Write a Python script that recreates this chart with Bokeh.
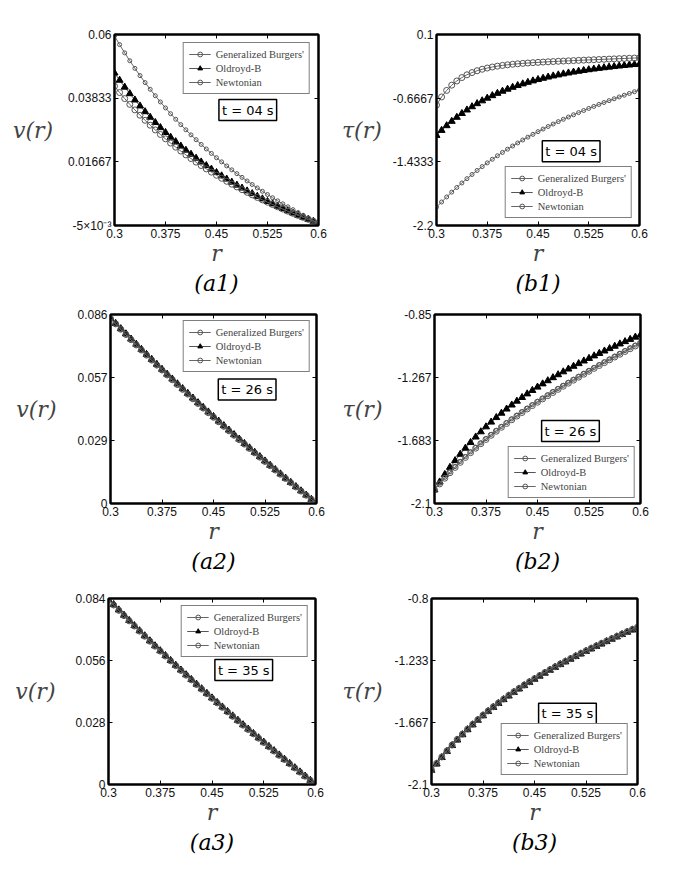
from bokeh.plotting import figure
from bokeh.layouts import column, row
from bokeh.models import FixedTicker, LinearAxis, Legend, LegendItem, Label, Title, Range1d
from bokeh.embed import file_html
from bokeh.resources import INLINE

# ---------------- data ----------------
R = [0.3, 0.3075, 0.315, 0.3225, 0.33, 0.3375, 0.345, 0.3525, 0.36, 0.3675,
     0.375, 0.3825, 0.39, 0.3975, 0.405, 0.4125, 0.42, 0.4275, 0.435, 0.4425,
     0.45, 0.4575, 0.465, 0.4725, 0.48, 0.4875, 0.495, 0.5025, 0.51, 0.5175,
     0.525, 0.5325, 0.54, 0.5475, 0.555, 0.5625, 0.57, 0.5775, 0.585, 0.5925,
     0.6]

X_TICKS = [0.3, 0.375, 0.45, 0.525, 0.6]
X_TICK_LABELS = ["0.3", "0.375", "0.45", "0.525", "0.6"]
SERIES_NAMES = ["Generalized Burgers'", "Oldroyd-B", "Newtonian"]

# (a1) t = 04 s, v(r)
A1_GB = [0.0424, 0.04025, 0.03819, 0.03623, 0.03434, 0.03253, 0.0308, 0.02913, 0.02752, 0.02598,
         0.02449, 0.02305, 0.02167, 0.02033, 0.01903, 0.01778, 0.01657, 0.0154, 0.01426, 0.01316,
         0.01209, 0.01106, 0.01005, 0.00907, 0.00812, 0.0072, 0.00629, 0.00542, 0.00456, 0.00373,
         0.00292, 0.00213, 0.00136, 0.00061, -0.00013, -0.00085, -0.00155, -0.00223, -0.0029, -0.00356,
         -0.0042]
A1_OB = [0.0469, 0.04444, 0.04209, 0.03987, 0.03772, 0.03568, 0.03373, 0.03185, 0.03005, 0.02832,
         0.02666, 0.02506, 0.02353, 0.02205, 0.02061, 0.01924, 0.01791, 0.01663, 0.01538, 0.01418,
         0.01302, 0.0119, 0.01081, 0.00975, 0.00873, 0.00774, 0.00677, 0.00584, 0.00493, 0.00405,
         0.00319, 0.00236, 0.00155, 0.00076, -0.00001, -0.00076, -0.00149, -0.00219, -0.00288, -0.00355,
         -0.0042]
A1_NT = [0.0595, 0.05656, 0.05375, 0.05106, 0.04848, 0.04601, 0.04364, 0.04136, 0.03916, 0.03705,
         0.03501, 0.03305, 0.03116, 0.02933, 0.02756, 0.02585, 0.0242, 0.02259, 0.02104, 0.01953,
         0.01807, 0.01666, 0.01528, 0.01394, 0.01264, 0.01138, 0.01015, 0.00895, 0.00778, 0.00664,
         0.00553, 0.00445, 0.0034, 0.00237, 0.00136, 0.00038, -0.00058, -0.00151, -0.00243, -0.00332,
         -0.0042]
A1_Y_TICKS = [-0.005, 0.0166667, 0.0383333, 0.06]
A1_Y_LABELS = ["-5×10⁻³", "0.01667", "0.03833", "0.06"]

# (b1) t = 04 s, tau(r)
B1_GB = [-0.75, -0.652, -0.5734, -0.5102, -0.4595, -0.4185, -0.3853, -0.3584, -0.3365, -0.3185,
         -0.3037, -0.2914, -0.281, -0.2723, -0.2649, -0.2584, -0.2528, -0.2478, -0.2433, -0.2392,
         -0.2355, -0.232, -0.2287, -0.2256, -0.2226, -0.2197, -0.2169, -0.2142, -0.2115, -0.2089,
         -0.2063, -0.2037, -0.2011, -0.1986, -0.1961, -0.1935, -0.191, -0.1885, -0.186, -0.1835,
         -0.1811]
B1_OB = [-1.115, -1.0544, -0.998, -0.9455, -0.8967, -0.8512, -0.8088, -0.7693, -0.7326, -0.6983,
         -0.6663, -0.6364, -0.6086, -0.5826, -0.5583, -0.5355, -0.5143, -0.4944, -0.4758, -0.4584,
         -0.4421, -0.4268, -0.4124, -0.3989, -0.3862, -0.3742, -0.363, -0.3524, -0.3424, -0.3329,
         -0.324, -0.3155, -0.3075, -0.2999, -0.2927, -0.2858, -0.2793, -0.273, -0.2671, -0.2614,
         -0.256]
B1_NT = [-1.98, -1.9169, -1.8563, -1.798, -1.7418, -1.6878, -1.6358, -1.5856, -1.5373, -1.4907,
         -1.4457, -1.4023, -1.3603, -1.3198, -1.2806, -1.2426, -1.2059, -1.1703, -1.1358, -1.1024,
         -1.0699, -1.0384, -1.0078, -0.978, -0.9491, -0.9209, -0.8935, -0.8667, -0.8406, -0.8151,
         -0.7903, -0.766, -0.7423, -0.719, -0.6963, -0.674, -0.6522, -0.6308, -0.6098, -0.5892,
         -0.569]
B1_Y_TICKS = [-2.2, -1.4333333, -0.6666667, 0.1]
B1_Y_LABELS = ["-2.2", "-1.4333", "-0.6667", "0.1"]

# (a2) t = 26 s, v(r)
A2_GB = [0.0842, 0.08174, 0.0793, 0.0769, 0.07452, 0.07216, 0.06983, 0.06752, 0.06524, 0.06297,
         0.06073, 0.0585, 0.0563, 0.05411, 0.05194, 0.04978, 0.04764, 0.04552, 0.04341, 0.04132,
         0.03924, 0.03717, 0.03512, 0.03308, 0.03105, 0.02903, 0.02703, 0.02504, 0.02305, 0.02108,
         0.01912, 0.01717, 0.01522, 0.01329, 0.01137, 0.00945, 0.00754, 0.00565, 0.00376, 0.00187,
         0.0]
A2_OB = [0.0843, 0.08195, 0.07955, 0.07718, 0.07482, 0.07248, 0.07016, 0.06786, 0.06559, 0.06332,
         0.06108, 0.05885, 0.05665, 0.05446, 0.05229, 0.05013, 0.04799, 0.04587, 0.04376, 0.04166,
         0.03958, 0.03751, 0.03545, 0.0334, 0.03136, 0.02933, 0.02732, 0.02532, 0.02332, 0.02134,
         0.01936, 0.0174, 0.01544, 0.01349, 0.01155, 0.00961, 0.00768, 0.00576, 0.00384, 0.00192,
         0.0]
A2_NT = [0.0841, 0.08154, 0.0791, 0.0767, 0.07432, 0.07196, 0.06963, 0.06732, 0.06504, 0.06277,
         0.06053, 0.0583, 0.0561, 0.05391, 0.05174, 0.04958, 0.04744, 0.04532, 0.04321, 0.04112,
         0.03904, 0.03697, 0.03492, 0.03288, 0.03085, 0.02884, 0.02685, 0.02486, 0.02288, 0.02092,
         0.01897, 0.01703, 0.0151, 0.01318, 0.01127, 0.00937, 0.00747, 0.0056, 0.00372, 0.00185,
         0.0]
A2_Y_TICKS = [0.0, 0.0286667, 0.0573333, 0.086]
A2_Y_LABELS = ["0", "0.029", "0.057", "0.086"]

# (b2) t = 26 s, tau(r)
B2_GB = [-2.01, -1.9705, -1.9326, -1.8963, -1.8613, -1.8277, -1.7953, -1.764, -1.7338, -1.7046,
         -1.6762, -1.6487, -1.622, -1.5959, -1.5706, -1.5459, -1.5217, -1.4981, -1.475, -1.4523,
         -1.43, -1.4082, -1.3867, -1.3656, -1.3448, -1.3242, -1.304, -1.284, -1.2642, -1.2446,
         -1.2253, -1.2061, -1.1871, -1.1683, -1.1496, -1.131, -1.1126, -1.0943, -1.0762, -1.0581,
         -1.0401]
B2_OB = [-2.01, -1.9575, -1.9078, -1.8609, -1.8164, -1.7743, -1.7342, -1.6962, -1.6601, -1.6256,
         -1.5928, -1.5614, -1.5314, -1.5026, -1.4751, -1.4486, -1.4231, -1.3986, -1.375, -1.3521,
         -1.33, -1.3087, -1.2879, -1.2678, -1.2482, -1.2291, -1.2105, -1.1924, -1.1747, -1.1573,
         -1.1403, -1.1236, -1.1073, -1.0912, -1.0754, -1.0598, -1.0445, -1.0293, -1.0144, -0.9996,
         -0.985]
B2_NT = [-2.01, -1.9665, -1.9276, -1.8913, -1.8563, -1.8227, -1.7903, -1.759, -1.7288, -1.6996,
         -1.6712, -1.6437, -1.617, -1.5909, -1.5656, -1.5409, -1.5167, -1.4931, -1.47, -1.4473,
         -1.425, -1.4032, -1.3817, -1.3606, -1.3398, -1.3192, -1.299, -1.279, -1.2592, -1.2396,
         -1.2203, -1.2011, -1.1821, -1.1633, -1.1446, -1.126, -1.1076, -1.0893, -1.0712, -1.0531,
         -1.0351]
B2_Y_TICKS = [-2.1, -1.6833333, -1.2666667, -0.85]
B2_Y_LABELS = ["-2.1", "-1.683", "-1.267", "-0.85"]

# (a3) t = 35 s, v(r)
A3_GB = [0.0835, 0.08106, 0.07864, 0.07626, 0.0739, 0.07156, 0.06925, 0.06696, 0.0647, 0.06245,
         0.06022, 0.05802, 0.05583, 0.05366, 0.0515, 0.04937, 0.04725, 0.04514, 0.04305, 0.04098,
         0.03891, 0.03686, 0.03483, 0.0328, 0.03079, 0.02879, 0.0268, 0.02483, 0.02286, 0.02091,
         0.01896, 0.01702, 0.0151, 0.01318, 0.01127, 0.00937, 0.00748, 0.0056, 0.00372, 0.00186,
         0.0]
A3_OB = [0.0836, 0.08126, 0.07884, 0.07646, 0.0741, 0.07176, 0.06945, 0.06716, 0.0649, 0.06265,
         0.06042, 0.05822, 0.05603, 0.05386, 0.0517, 0.04957, 0.04745, 0.04534, 0.04325, 0.04118,
         0.03911, 0.03706, 0.03503, 0.033, 0.03099, 0.02899, 0.027, 0.02503, 0.02306, 0.02111,
         0.01916, 0.01721, 0.01528, 0.01335, 0.01143, 0.00951, 0.0076, 0.0057, 0.0038, 0.0019,
         0.0]
A3_NT = [0.0834, 0.08091, 0.07849, 0.07611, 0.07375, 0.07141, 0.0691, 0.06681, 0.06455, 0.0623,
         0.06007, 0.05787, 0.05568, 0.05351, 0.05135, 0.04922, 0.0471, 0.04499, 0.0429, 0.04083,
         0.03876, 0.03671, 0.03468, 0.03265, 0.03064, 0.02864, 0.02665, 0.02468, 0.02271, 0.02076,
         0.01881, 0.01688, 0.01496, 0.01304, 0.01113, 0.00924, 0.00736, 0.00548, 0.00362, 0.00178,
         0.0]
A3_Y_TICKS = [0.0, 0.028, 0.056, 0.084]
A3_Y_LABELS = ["0", "0.028", "0.056", "0.084"]

# (b3) t = 35 s, tau(r)
B3_GB = [-2.0, -1.9525, -1.9074, -1.8646, -1.8239, -1.785, -1.748, -1.7127, -1.6789, -1.6465,
         -1.6154, -1.5856, -1.557, -1.5293, -1.5027, -1.477, -1.4521, -1.4281, -1.4047, -1.3821,
         -1.36, -1.3386, -1.3176, -1.2972, -1.2773, -1.2577, -1.2386, -1.2199, -1.2015, -1.1834,
         -1.1656, -1.1481, -1.1308, -1.1138, -1.097, -1.0804, -1.064, -1.0478, -1.0317, -1.0158,
         -1.0]
B3_OB = [-2.0, -1.9565, -1.9114, -1.8686, -1.8279, -1.789, -1.752, -1.7167, -1.6829, -1.6505,
         -1.6194, -1.5896, -1.561, -1.5333, -1.5067, -1.481, -1.4561, -1.4321, -1.4087, -1.3861,
         -1.364, -1.3426, -1.3216, -1.3012, -1.2813, -1.2617, -1.2426, -1.2239, -1.2055, -1.1874,
         -1.1696, -1.1521, -1.1348, -1.1178, -1.101, -1.0844, -1.068, -1.0518, -1.0357, -1.0198,
         -1.004]
B3_NT = [-1.998, -1.9495, -1.9044, -1.8616, -1.8209, -1.782, -1.745, -1.7097, -1.6759, -1.6435,
         -1.6124, -1.5826, -1.554, -1.5263, -1.4997, -1.474, -1.4491, -1.4251, -1.4017, -1.3791,
         -1.357, -1.3356, -1.3146, -1.2942, -1.2743, -1.2547, -1.2356, -1.2169, -1.1985, -1.1804,
         -1.1626, -1.1451, -1.1278, -1.1108, -1.094, -1.0774, -1.061, -1.0448, -1.0287, -1.0128,
         -0.997]
B3_Y_TICKS = [-2.1, -1.6666667, -1.2333333, -0.8]
B3_Y_LABELS = ["-2.1", "-1.667", "-1.233", "-0.8"]

# ---------------- styling helpers ----------------
LABEL_PROPS = Label.properties()
TITLE_PROPS = Title.properties()
AXIS_PROPS = LinearAxis.properties()

AX_FONT = "Liberation Sans"
MATH_FONT = "DejaVu Serif"


def style_axis(ax, show_labels=True):
    ax.major_tick_in = 4
    ax.major_tick_out = 0
    ax.minor_tick_line_color = None
    ax.major_tick_line_color = "black"
    ax.major_tick_line_width = 1
    ax.axis_line_color = "black"
    ax.axis_line_width = 2
    if show_labels:
        ax.major_label_text_font = AX_FONT
        ax.major_label_text_font_size = "12px"
        ax.major_label_text_color = "#111111"
    else:
        ax.major_label_text_color = None
        ax.major_label_text_alpha = 0
        ax.major_label_text_font_size = "1px"
        ax.major_label_standoff = 0


def make_panel(gb, ob, nt, y_range, y_ticks, y_labels, y_title, y_standoff,
               t_text, t_pos, legend_loc, legend_margin, caption,
               width, height, bl, br, bt, bb):
    p = figure(width=width, height=height,
               x_range=Range1d(0.3, 0.6), y_range=Range1d(*y_range),
               output_backend="svg", toolbar_location=None, tools="",
               min_border_left=bl, min_border_right=br,
               min_border_top=bt, min_border_bottom=bb)
    p.xgrid.visible = False
    p.ygrid.visible = False
    p.outline_line_color = "black"
    p.outline_line_width = 2
    p.background_fill_color = "white"
    p.border_fill_color = "white"

    xa = p.xaxis[0]
    xa.ticker = FixedTicker(ticks=X_TICKS)
    xa.major_label_overrides = dict(zip(X_TICKS, X_TICK_LABELS))
    style_axis(xa)
    xa.major_label_standoff = 3
    xa.axis_label = "r"
    xa.axis_label_text_font = MATH_FONT
    xa.axis_label_text_font_style = "italic"
    xa.axis_label_text_font_size = "22px"
    xa.axis_label_standoff = 0

    ya = p.yaxis[0]
    ya.ticker = FixedTicker(ticks=y_ticks)
    ya.major_label_overrides = dict(zip(y_ticks, y_labels))
    style_axis(ya)
    ya.major_label_standoff = 3
    ya.axis_label = y_title
    ya.axis_label_text_font = MATH_FONT
    ya.axis_label_text_font_style = "italic"
    ya.axis_label_text_font_size = "22px"
    ya.axis_label_standoff = y_standoff
    if "axis_label_orientation" in AXIS_PROPS:
        ya.axis_label_orientation = "horizontal"

    ra = LinearAxis(ticker=FixedTicker(ticks=y_ticks))
    style_axis(ra, show_labels=False)
    p.add_layout(ra, "right")
    ta = LinearAxis(ticker=FixedTicker(ticks=X_TICKS))
    style_axis(ta, show_labels=False)
    p.add_layout(ta, "above")

    # curves
    lo = p.line(R, ob, line_color="#555555", line_width=1)
    so = p.scatter(R, ob, marker="triangle", size=7, line_color="black", fill_color="black")
    lg = p.line(R, gb, line_color="#666666", line_width=1)
    sg = p.scatter(R, gb, marker="circle", size=6, line_color="#555555", fill_color=None, line_width=1)
    ln = p.line(R, nt, line_color="#666666", line_width=1)
    sn = p.scatter(R, nt, marker="circle", size=4, line_color="#555555", fill_color=None, line_width=1)

    legend = Legend(items=[LegendItem(label=SERIES_NAMES[0], renderers=[lg, sg]),
                           LegendItem(label=SERIES_NAMES[1], renderers=[lo, so]),
                           LegendItem(label=SERIES_NAMES[2], renderers=[ln, sn])],
                    location=legend_loc, margin=legend_margin,
                    border_line_color="black", border_line_width=1.5,
                    background_fill_color="white", background_fill_alpha=1.0,
                    label_text_font="Liberation Serif", label_text_font_size="10.5px",
                    glyph_width=22, glyph_height=12, label_height=12,
                    label_standoff=5, padding=5, spacing=2)
    p.add_layout(legend)

    # time box
    tkw = dict(x=t_pos[0], y=t_pos[1], text=t_text, text_align="center",
               text_baseline="middle", text_font="DejaVu Sans", text_font_size="13px",
               text_color="black", border_line_color="black", border_line_width=1.5,
               background_fill_color="white")
    if "padding" in LABEL_PROPS:
        tkw["padding"] = 3
    p.add_layout(Label(**tkw))

    tt = dict(text=caption, align="center", text_font=MATH_FONT,
              text_font_style="italic", text_font_size="22px", text_color="black")
    if "standoff" in TITLE_PROPS:
        tt["standoff"] = 0
    p.add_layout(Title(**tt), "below")
    return p


# layout: the page has no body margin, borders place each frame as in the reference
a1 = make_panel(A1_GB, A1_OB, A1_NT, (-0.005, 0.06), A1_Y_TICKS, A1_Y_LABELS, "v(r)", 12,
                "t = 04 s", (0.496, 0.0343), "top_right", 8, "(a1)",
                338, 301, 114, 20, 33, 76)
b1 = make_panel(B1_GB, B1_OB, B1_NT, (-2.2, 0.1), B1_Y_TICKS, B1_Y_LABELS, "τ(r)", 8,
                "t = 04 s", (0.499, -1.307), "bottom_right", 7, "(b1)",
                335, 301, 96, 34, 34, 76)
a2 = make_panel(A2_GB, A2_OB, A2_NT, (0.0, 0.086), A2_Y_TICKS, A2_Y_LABELS, "v(r)", 18,
                "t = 26 s", (0.499, 0.0519), "top_right", 6, "(a2)",
                338, 282, 110, 22, 13, 76)
b2 = make_panel(B2_GB, B2_OB, B2_NT, (-2.1, -0.85), B2_Y_TICKS, B2_Y_LABELS, "τ(r)", 12,
                "t = 26 s", (0.498, -1.621), "bottom_right", 5, "(b2)",
                335, 282, 96, 33, 12, 80)
a3 = make_panel(A3_GB, A3_OB, A3_NT, (0.0, 0.084), A3_Y_TICKS, A3_Y_LABELS, "v(r)", 17,
                "t = 35 s", (0.496, 0.0517), "top_right", 7, "(a3)",
                338, 283, 108, 23, 15, 76)
b3 = make_panel(B3_GB, B3_OB, B3_NT, (-2.1, -0.8), B3_Y_TICKS, B3_Y_LABELS, "τ(r)", 9,
                "t = 35 s", (0.498, -1.606), "bottom_right", 9, "(b3)",
                335, 283, 93, 36, 9, 82)

layout = column(row(a1, b1), row(a2, b2), row(a3, b3))

with open("out.html", "w") as f:
    f.write(file_html(layout, INLINE))
